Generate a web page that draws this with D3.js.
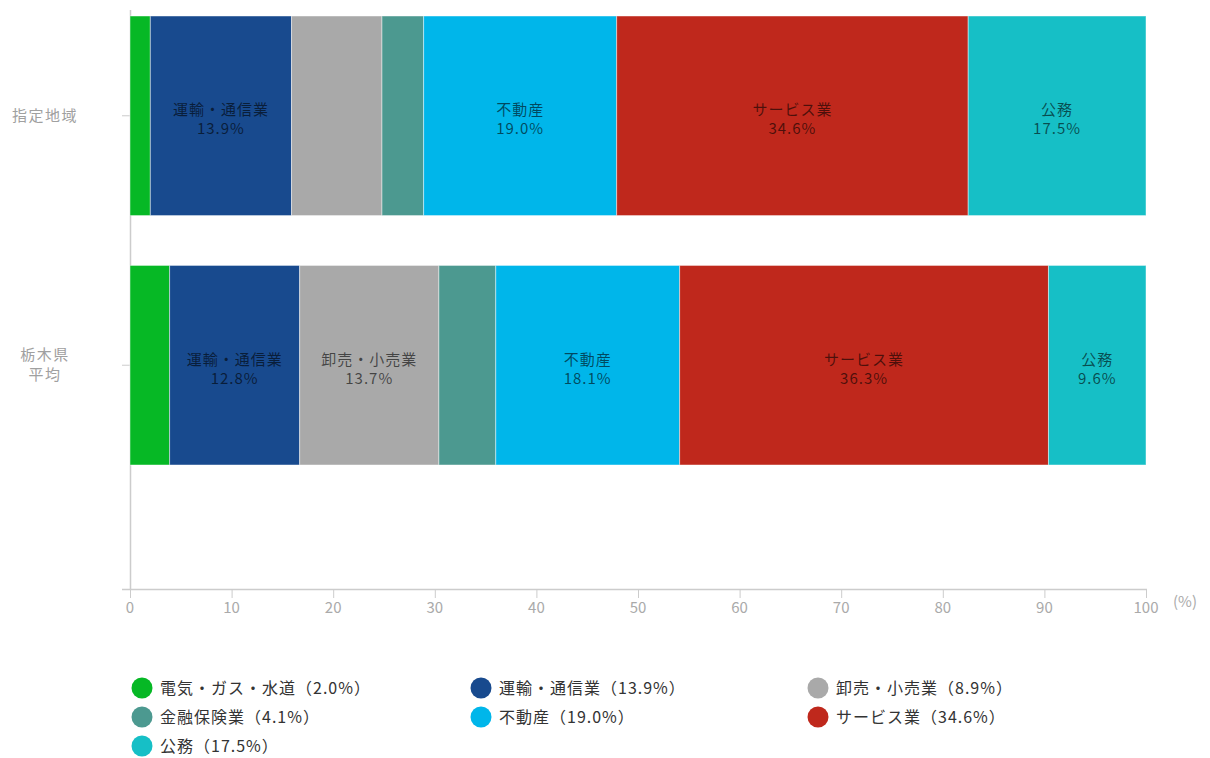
<!DOCTYPE html>
<html lang="ja">
<head>
<meta charset="utf-8">
<script src="https://cdn.jsdelivr.net/npm/d3@7"></script>
<style>
  html, body { margin: 0; padding: 0; background: #fff; }
  svg { display: block; font-family: "Noto Sans CJK JP", "Noto Sans", sans-serif; }
</style>
</head>
<body>
<svg id="chart" width="1210" height="758"></svg>
<script>
// Industry shares of gross production, two regions
const regions = ["指定地域", "栃木県平均"];
const regionLines = [["指定地域"], ["栃木県", "平均"]];
const industries = ["電気・ガス・水道", "運輸・通信業", "卸売・小売業", "金融保険業", "不動産", "サービス業", "公務"];
const colors = ["#06b825", "#184a8e", "#a9a9a9", "#4c9990", "#00b6ea", "#bf281c", "#16bfc6"];
const valuesDesignated = [2.0, 13.9, 8.9, 4.1, 19.0, 34.6, 17.5];
const valuesPrefecture = [3.9, 12.8, 13.7, 5.6, 18.1, 36.3, 9.6];
const xTicks = [0, 10, 20, 30, 40, 50, 60, 70, 80, 90, 100];

const seriesByRegion = [valuesDesignated, valuesPrefecture];

const svg = d3.select("#chart");
const x = d3.scaleLinear().domain([0, 100]).range([130, 1146]);
const y = d3.scaleBand().domain(regions).range([16, 465]).paddingInner(0.2).paddingOuter(0);

// stacked segments
const rows = regions.map((r, i) => {
  let acc = 0;
  return industries.map((name, j) => {
    const v = seriesByRegion[i][j];
    const seg = { region: r, name, value: v, x0: acc, x1: acc + v, color: colors[j] };
    acc += v;
    return seg;
  });
});

// axis lines
const axisColor = "#cccccc";
svg.append("line")
  .attr("x1", 130.5).attr("x2", 130.5)
  .attr("y1", 10).attr("y2", 590)
  .attr("stroke", axisColor).attr("stroke-width", 1.5);

// category ticks and labels
regions.forEach((r, i) => {
  const cy = y(r) + y.bandwidth() / 2;
  svg.append("line")
    .attr("x1", 122).attr("x2", 130)
    .attr("y1", cy).attr("y2", cy)
    .attr("stroke", axisColor).attr("stroke-width", 1);
  const lines = regionLines[i];
  const t = svg.append("text")
    .attr("text-anchor", "middle")
    .attr("fill", "#a0a0a0")
    .attr("font-size", 15)
    .attr("letter-spacing", 1.5);
  lines.forEach((ln, k) => {
    t.append("tspan")
      .attr("x", 45)
      .attr("y", cy + 5 + (k - (lines.length - 1) / 2) * 20)
      .text(ln);
  });
});

// bars
const barG = svg.append("g");
rows.forEach(row => {
  barG.selectAll(null)
    .data(row)
    .enter()
    .append("rect")
    .attr("x", d => x(d.x0))
    .attr("width", d => x(d.x1) - x(d.x0))
    .attr("y", d => y(d.region))
    .attr("height", y.bandwidth())
    .attr("fill", d => d.color)
    .attr("stroke", "rgba(255,255,255,0.45)")
    .attr("stroke-width", 1);
});

// labels inside segments (only where they fit)
const labelG = svg.append("g");
rows.forEach(row => {
  row.forEach(d => {
    const w = x(d.x1) - x(d.x0);
    const cx = (x(d.x0) + x(d.x1)) / 2;
    const cy = y(d.region) + y.bandwidth() / 2;
    const t = labelG.append("text")
      .attr("text-anchor", "middle")
      .attr("fill", "#000")
      .attr("fill-opacity", 0.6)
      .attr("font-size", 15)
      .attr("letter-spacing", 1);
    t.append("tspan").attr("x", cx).attr("y", cy - 0.5).text(d.name);
    t.append("tspan").attr("x", cx).attr("y", cy + 18.5).text(d.value.toFixed(1) + "%");
    const tw = t.node().getBBox().width;
    if (tw + 4 > w) t.remove();
  });
});

// x axis
const xg = svg.append("g");
xg.append("line")
  .attr("x1", 122).attr("x2", 1147)
  .attr("y1", 589.5).attr("y2", 589.5)
  .attr("stroke", axisColor).attr("stroke-width", 1.5);
xg.selectAll(".tk")
  .data(xTicks)
  .enter()
  .append("line")
  .attr("x1", d => x(d) + 0.5).attr("x2", d => x(d) + 0.5)
  .attr("y1", 589).attr("y2", 598)
  .attr("stroke", axisColor).attr("stroke-width", 1);
xg.selectAll(".tl")
  .data(xTicks)
  .enter()
  .append("text")
  .attr("x", d => x(d))
  .attr("y", 613)
  .attr("text-anchor", "middle")
  .attr("fill", "#aaa")
  .attr("font-size", 15)
  .text(d => d);
svg.append("text")
  .attr("x", 1185).attr("y", 607)
  .attr("text-anchor", "middle")
  .attr("fill", "#aaa")
  .attr("font-size", 15)
  .text("(%)");

// legend
const legendCols = [142, 481, 818];
const legendRows = [688, 717, 746];
const lg = svg.append("g");
industries.forEach((name, j) => {
  const cx = legendCols[j % 3];
  const cy = legendRows[Math.floor(j / 3)];
  lg.append("circle")
    .attr("cx", cx).attr("cy", cy).attr("r", 10.5)
    .attr("fill", colors[j]);
  lg.append("text")
    .attr("x", cx + 18).attr("y", cy + 6)
    .attr("fill", "#333")
    .attr("font-size", 16)
    .attr("letter-spacing", 1)
    .text(name + "（" + valuesDesignated[j].toFixed(1) + "%）");
});
</script>
</body>
</html>
